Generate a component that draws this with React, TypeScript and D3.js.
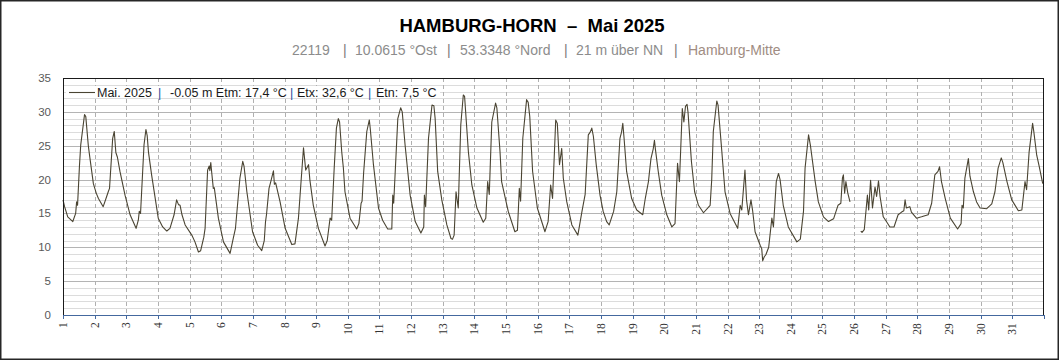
import React from 'react';
import * as d3 from 'd3';

// time in fractional days (1.0 = 1 May 00:00), temperature °C; null = gap
const times: number[] = [
  1.00, 1.05, 1.15, 1.31, 1.40, 1.43, 1.46, 1.52, 1.56, 1.68, 1.72, 1.80, 1.85, 1.96,
  2.05, 2.12, 2.27, 2.38, 2.43, 2.47, 2.57, 2.62, 2.67, 2.72, 2.80, 2.96,
  3.12, 3.31, 3.38, 3.41, 3.45, 3.56, 3.62, 3.66, 3.70, 3.80,
  4.01, 4.15, 4.28, 4.38, 4.51, 4.59, 4.65, 4.70, 4.76, 4.86,
  5.07, 5.17, 5.28, 5.35, 5.45, 5.49, 5.57, 5.62, 5.64, 5.67, 5.70, 5.75, 5.78, 5.91,
  6.07, 6.28, 6.38, 6.45, 6.59, 6.68, 6.72, 6.81, 6.99,
  7.15, 7.28, 7.36, 7.40, 7.43, 7.51, 7.56, 7.65, 7.68, 7.72, 7.86,
  8.02, 8.23, 8.33, 8.44, 8.53, 8.60, 8.67, 8.76, 8.80, 8.91,
  9.07, 9.28, 9.35, 9.44, 9.49, 9.57, 9.64, 9.70, 9.74, 9.81, 9.86, 9.91,
  10.07, 10.28, 10.35, 10.42, 10.45, 10.50, 10.60, 10.68, 10.71, 10.81, 10.97,
  11.10, 11.26, 11.39, 11.42, 11.45, 11.58, 11.67, 11.72, 11.81, 11.97,
  12.13, 12.31, 12.40, 12.42, 12.46, 12.55, 12.66, 12.72, 12.76, 12.84, 12.97,
  13.13, 13.26, 13.31, 13.36, 13.42, 13.49, 13.57, 13.65, 13.69, 13.81, 13.92,
  14.08, 14.28, 14.36, 14.42, 14.47, 14.55, 14.67, 14.71, 14.81, 14.86,
  15.07, 15.28, 15.36, 15.42, 15.46, 15.53, 15.65, 15.70, 15.75, 15.84, 15.99,
  16.23, 16.33, 16.41, 16.47, 16.57, 16.62, 16.69, 16.76, 16.81, 16.92,
  17.08, 17.27, 17.40, 17.50, 17.60, 17.66, 17.71, 17.76, 17.85, 17.97,
  18.07, 18.18, 18.26, 18.40, 18.50, 18.60, 18.65, 18.69, 18.73, 18.81, 18.97,
  19.13, 19.32, 19.40, 19.50, 19.53, 19.58, 19.65, 19.69, 19.72, 19.81, 19.92,
  20.08, 20.24, 20.34, 20.42, 20.48, 20.57, 20.62, 20.67, 20.72, 20.75, 20.86, 20.96,
  21.08, 21.24, 21.45, 21.50, 21.55, 21.66, 21.70, 21.82, 21.92,
  22.08, 22.32, 22.40, 22.45, 22.55, 22.60, 22.66, 22.74, 22.79, 22.87,
  23.03, 23.08, 23.11, 23.16, 23.21, 23.30, 23.40, 23.45, 23.54, 23.61, 23.66, 23.76, 23.92,
  24.19, 24.30, 24.40, 24.45, 24.56, 24.62, 24.77, 24.87,
  25.03, 25.19, 25.35, 25.49, 25.58, 25.63, 25.66, 25.70, 25.74, 25.80, 25.87, 26.04,
  26.21, 26.25, 26.32, 26.42, 26.46, 26.52, 26.58, 26.66, 26.71, 26.77, 26.82, 26.92,
  27.02, 27.13, 27.26, 27.39, 27.50, 27.57, 27.61, 27.65, 27.76, 27.81, 27.97,
  28.13, 28.34, 28.45, 28.55, 28.65, 28.70, 28.76, 28.88,
  29.04, 29.27, 29.38, 29.41, 29.45, 29.50, 29.61, 29.66, 29.77, 29.87, 29.98,
  30.19, 30.35, 30.45, 30.55, 30.65, 30.70, 30.83, 30.98,
  31.19, 31.30, 31.40, 31.45, 31.53, 31.64, 31.68, 31.77, 31.85, 31.96,
];

const temps: (number | null)[] = [
  17.0, 16.0, 14.5, 13.8, 15.0, 16.7, 16.2, 22.0, 25.1, 29.6, 29.3, 25.0, 23.2, 19.4,
  18.0, 17.2, 16.0, 17.5, 18.2, 18.7, 26.1, 27.1, 24.0, 23.3, 21.2, 17.7,
  14.8, 12.8, 14.0, 15.3, 15.0, 25.1, 27.4, 26.5, 24.1, 20.7,
  14.3, 13.0, 12.4, 12.8, 14.8, 17.0, 16.3, 16.2, 14.8, 13.3,
  11.8, 10.8, 9.3, 9.5, 11.5, 12.8, 21.4, 22.0, 21.3, 22.5, 21.0, 18.7, 18.8, 14.3,
  10.8, 9.1, 11.3, 12.8, 20.2, 22.7, 22.0, 18.2, 12.3,
  10.3, 9.5, 11.0, 13.8, 14.8, 18.7, 19.6, 21.3, 19.3, 19.5, 16.7,
  12.8, 10.4, 10.5, 14.3, 20.2, 24.7, 21.4, 22.2, 20.0, 16.2,
  12.8, 10.2, 11.0, 14.3, 14.0, 21.7, 27.6, 29.0, 28.5, 24.0, 21.7, 18.2,
  14.3, 12.7, 13.5, 16.5, 16.8, 21.0, 27.1, 28.8, 27.5, 22.2, 15.8,
  14.0, 12.7, 12.7, 17.7, 16.5, 29.0, 30.6, 30.0, 25.1, 17.7,
  13.8, 12.1, 13.0, 17.7, 16.0, 26.1, 31.0, 30.9, 29.0, 21.2, 17.0,
  13.3, 11.3, 11.2, 11.8, 18.2, 15.8, 28.1, 32.5, 32.3, 24.1, 19.2,
  15.8, 13.7, 14.3, 19.7, 17.8, 28.5, 31.3, 30.6, 24.1, 19.7,
  15.3, 12.3, 12.5, 18.7, 16.8, 26.1, 31.8, 31.4, 29.3, 21.2, 15.8,
  12.3, 13.8, 19.2, 17.2, 28.8, 28.3, 22.2, 24.6, 20.2, 16.7,
  13.3, 11.8, 15.3, 17.8, 26.6, 27.0, 27.6, 26.4, 22.2, 17.7,
  15.3, 13.8, 13.3, 15.3, 18.2, 26.1, 27.0, 28.3, 26.1, 21.2, 17.2,
  15.5, 14.8, 17.2, 19.7, 21.0, 23.1, 24.5, 25.8, 24.5, 21.2, 17.7,
  14.8, 13.0, 13.5, 22.4, 19.7, 30.5, 28.5, 30.8, 31.1, 30.0, 22.6, 18.2,
  16.2, 15.1, 16.2, 20.0, 27.1, 31.6, 31.0, 24.1, 18.2,
  15.0, 12.8, 16.2, 15.5, 21.4, 17.0, 14.8, 17.0, 15.5, 12.3,
  10.3, 9.8, 8.0, 8.6, 8.9, 10.0, 14.3, 13.0, 19.7, 20.9, 20.0, 16.2, 13.0,
  10.8, 11.2, 15.3, 21.7, 26.6, 25.0, 19.7, 16.7,
  14.5, 13.8, 14.2, 16.2, 16.5, 20.2, 20.7, 18.0, 19.7, 18.0, 16.7, null,
  12.4, 12.2, 12.6, 17.7, 15.5, 19.9, 15.8, 18.9, 17.5, 19.8, 17.5, 14.5,
  13.8, 13.0, 13.0, 14.8, 15.2, 15.4, 17.0, 15.8, 16.0, 15.2, 14.3,
  14.5, 14.8, 16.5, 20.7, 21.2, 21.9, 19.7, 17.2,
  14.3, 12.7, 13.5, 16.2, 15.8, 20.2, 23.1, 20.5, 18.2, 16.7, 15.8,
  15.7, 16.4, 18.2, 21.7, 23.2, 22.5, 19.7, 17.0,
  15.4, 15.5, 19.7, 18.5, 24.1, 28.3, 27.0, 23.6, 21.9, 19.4,
];

const dayLabels: string[] = [
  '1', '2', '3', '4', '5', '6', '7', '8', '9', '10', '11', '12', '13', '14', '15', '16',
  '17', '18', '19', '20', '21', '22', '23', '24', '25', '26', '27', '28', '29', '30', '31',
];
const yMajorTicks: number[] = [0, 5, 10, 15, 20, 25, 30, 35];
const yMinorTicks: number[] = [
  1, 2, 3, 4, 6, 7, 8, 9, 11, 12, 13, 14, 16, 17, 18, 19, 21, 22, 23, 24, 26, 27, 28, 29, 31, 32, 33, 34,
];

// subtitle and legend pieces
const subtitleParts: { text: string; x: number; color: string }[] = [
  { text: '22119', x: 292, color: '#8c8c8c' },
  { text: '|', x: 343, color: '#7a7a7a' },
  { text: '10.0615 °Ost', x: 355, color: '#8c8c8c' },
  { text: '|', x: 447, color: '#7a7a7a' },
  { text: '53.3348 °Nord', x: 460, color: '#8c8c8c' },
  { text: '|', x: 564, color: '#7a7a7a' },
  { text: '21 m über NN', x: 576, color: '#8c8c8c' },
  { text: '|', x: 674, color: '#7a7a7a' },
  { text: 'Hamburg-Mitte', x: 688, color: '#a08c82' },
];
const legendParts: { text: string; x: number; sep: boolean }[] = [
  { text: 'Mai. 2025', x: 97, sep: false },
  { text: '|', x: 158, sep: true },
  { text: '-0.05 m Etm: 17,4 °C', x: 170, sep: false },
  { text: '|', x: 290, sep: true },
  { text: 'Etx: 32,6 °C', x: 297, sep: false },
  { text: '|', x: 368, sep: true },
  { text: 'Etn: 7,5 °C', x: 376, sep: false },
];

const W = 1059;
const H = 360;
const M = { left: 63, right: 1044, top: 78, bottom: 315 };

export default function App() {
  const x = d3.scaleLinear().domain([1, 32]).range([M.left, M.right]);
  const y = d3.scaleLinear().domain([0, 35]).range([M.bottom, M.top]);
  const pts = times.map((t, i) => [t, temps[i]] as [number, number | null]);
  const line = d3
    .line<[number, number | null]>()
    .defined((d) => d[1] !== null)
    .x((d) => x(d[0]))
    .y((d) => y(d[1] as number));

  const sans = "'Liberation Sans', Arial, sans-serif";
  const blue = '#1f4e9c';

  return (
    <svg
      width={W}
      height={H}
      style={{ position: 'absolute', left: 0, top: 0, background: '#fff' }}
      fontFamily={sans}
    >
      <rect x={0} y={0} width={W} height={H} fill="#fff" />
      <rect x={0.75} y={0.75} width={W - 1.5} height={H - 1.5} fill="none" stroke="#262626" strokeWidth={1.5} />

      {/* title */}
      <text x={532} y={32} textAnchor="middle" fontSize={18.5} fontWeight="bold" fill="#000"
        style={{ whiteSpace: 'pre' }}>
        {'HAMBURG-HORN  \u2013  Mai 2025'}
      </text>
      {subtitleParts.map((p, i) => (
        <text key={'st' + i} x={p.x} y={55} fontSize={14} fill={p.color}>
          {p.text}
        </text>
      ))}

      {/* minor grid */}
      {yMinorTicks.map((v) => (
        <line key={'mn' + v} x1={M.left} x2={M.right} y1={Math.round(y(v)) + 0.5} y2={Math.round(y(v)) + 0.5}
          stroke="#dcdcdc" strokeWidth={1} />
      ))}
      {/* major grid */}
      {yMajorTicks.slice(1, -1).map((v) => (
        <line key={'mj' + v} x1={M.left} x2={M.right} y1={Math.round(y(v)) + 0.5} y2={Math.round(y(v)) + 0.5}
          stroke="#b4b4b4" strokeWidth={1} />
      ))}
      {/* vertical dashed grid */}
      {dayLabels.slice(1).map((d) => (
        <line key={'vg' + d} x1={Math.round(x(+d)) + 0.5} x2={Math.round(x(+d)) + 0.5} y1={M.top} y2={M.bottom}
          stroke="#b0b0b0" strokeWidth={1} strokeDasharray="4,3" />
      ))}

      {/* legend background */}
      <rect x={66} y={86} width={374} height={12} fill="#fff" />

      {/* data line */}
      <path d={line(pts) || ''} fill="none" stroke="#4a4432" strokeWidth={1.1} strokeLinejoin="round" />

      {/* plot frame */}
      <line x1={M.left} x2={M.right} y1={M.top + 0.5} y2={M.top + 0.5} stroke="#1a1a1a" />
      <line x1={M.right - 0.5} x2={M.right - 0.5} y1={M.top} y2={M.bottom} stroke="#1a1a1a" />
      <line x1={M.left + 0.5} x2={M.left + 0.5} y1={M.top} y2={M.bottom} stroke="#1a1a1a" />
      <line x1={M.left} x2={M.right} y1={M.bottom + 0.5} y2={M.bottom + 0.5} stroke="#44689e" />
      {[...dayLabels.map((d) => +d), 32].map((d) => (
        <line key={'xt' + d} x1={Math.round(x(d)) + 0.5} x2={Math.round(x(d)) + 0.5} y1={M.bottom} y2={M.bottom + 4}
          stroke="#44689e" />
      ))}

      {/* y labels */}
      {yMajorTicks.map((v) => (
        <text key={'yl' + v} x={51} y={y(v) + 4} textAnchor="end" fontSize={11.5} fill="#595959">
          {v}
        </text>
      ))}

      {/* x labels */}
      {dayLabels.map((d) => (
        <text key={'xl' + d} transform={`translate(${x(+d) + 4},${d.length > 1 ? 329 : 325}) rotate(-90)`}
          textAnchor="middle" fontSize={11.5} fill="#333" fontFamily="'Liberation Serif', 'Times New Roman', serif">
          {d}
        </text>
      ))}

      {/* legend */}
      <line x1={69} x2={95} y1={92.5} y2={92.5} stroke="#4a4432" strokeWidth={1.1} />
      {legendParts.map((p, i) => (
        <text key={'lg' + i} x={p.x} y={96.5} fontSize={12.5} fill={p.sep ? blue : '#1a1a1a'}>
          {p.text}
        </text>
      ))}
    </svg>
  );
}
